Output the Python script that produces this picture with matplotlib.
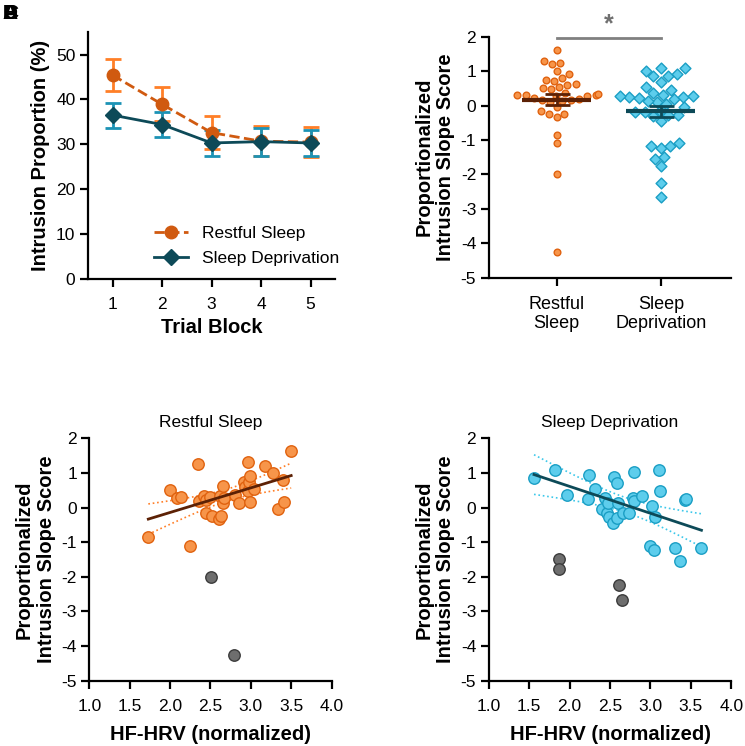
import numpy as np
import pandas as pd
import matplotlib
matplotlib.use("Agg")
import matplotlib.pyplot as plt
import seaborn as sns

plt.rcParams['font.family'] = ['Liberation Sans', 'DejaVu Sans']
plt.rcParams['axes.unicode_minus'] = False
plt.rcParams['axes.linewidth'] = 1.6
plt.rcParams['xtick.major.width'] = 1.6
plt.rcParams['ytick.major.width'] = 1.6
plt.rcParams['xtick.major.size'] = 6
plt.rcParams['ytick.major.size'] = 6
plt.rcParams['xtick.labelsize'] = 12.5
plt.rcParams['ytick.labelsize'] = 12.5

# ---- dados do painel A (média e erro por bloco)
blocks = [1, 2, 3, 4, 5]
rs_mean = [45.4, 38.9, 32.6, 30.7, 30.5]
rs_err = [3.6, 3.8, 3.7, 3.3, 3.4]
sd_mean = [36.5, 34.4, 30.3, 30.6, 30.3]
sd_err = [2.8, 2.8, 3.0, 3.1, 2.9]

# ---- painel C: restful sleep (HF-HRV x slope score)
rs_hrv = [1.73, 2.00, 2.08, 2.14, 2.25, 2.35, 2.36, 2.42, 2.44, 2.44, 2.50, 2.52,
          2.60, 2.62, 2.63, 2.65, 2.65, 2.67, 2.80, 2.85, 2.91, 2.93, 2.96, 2.98,
          2.97, 2.99, 2.99, 3.04, 3.18, 3.28, 3.34, 3.40, 3.41, 3.50]
rs_slope = [-0.84, 0.51, 0.27, 0.30, -1.10, 1.25, 0.19, 0.32, 0.22, -0.15, 0.30, -0.23,
            -0.33, 0.33, -0.23, 0.63, 0.14, 0.29, 0.36, 0.12, 0.73, 0.60, 0.48, 0.75,
            1.31, 0.92, 0.16, 0.54, 1.21, 1.01, -0.03, 0.80, 0.17, 1.63]
rs_out_hrv = [2.51, 2.79]
rs_out_slope = [-2.00, -4.26]

# ---- painel D: sleep deprivation
sd_hrv = [1.56, 1.82, 1.97, 2.23, 2.24, 2.31, 2.40, 2.44, 2.46, 2.47, 2.49, 2.54,
          2.55, 2.58, 2.59, 2.60, 2.66, 2.73, 2.78, 2.80, 2.80, 2.90, 3.02, 2.99,
          3.04, 3.06, 3.10, 3.12, 3.30, 3.37, 3.43, 3.44, 3.63]
sd_slope = [0.86, 1.09, 0.36, 0.25, 0.93, 0.54, -0.05, 0.29, -0.17, 0.12, -0.26, -0.44,
            0.87, 0.70, -0.31, 0.14, -0.15, -0.17, 0.27, 1.02, 0.20, 0.32, 0.05, -1.10,
            -1.24, -0.28, 1.09, 0.47, -1.18, -1.55, 0.22, 0.25, -1.18]
sd_out_hrv = [1.87, 1.87, 2.61, 2.65]
sd_out_slope = [-1.48, -1.76, -2.24, -2.67]

groups = ['Restful\nSleep', 'Sleep\nDeprivation']

# cores
OR_LINE = '#D05A10'
OR_ERR = '#FF7F27'
OR_FILL = '#F7954A'
OR_EDGE = '#E0620F'
OR_DARK = '#5C2105'
TE_LINE = '#0D4A58'
TE_ERR = '#1C93B5'
CY_FILL = '#5DCDEC'
CY_EDGE = '#1A9EC4'
GR_FILL = '#6E6E6E'
GR_EDGE = '#3C3C3C'

LABEL_FS = 14.5


def fit_with_ci(x, y, t_crit=2.035):
    x = np.asarray(x)
    y = np.asarray(y)
    n = len(x)
    b, a = np.polyfit(x, y, 1)
    resid = y - (a + b * x)
    s = np.sqrt(np.sum(resid ** 2) / (n - 2))
    xs = np.linspace(x.min(), x.max(), 100)
    ys = a + b * xs
    se = s * np.sqrt(1.0 / n + (xs - x.mean()) ** 2 / np.sum((x - x.mean()) ** 2))
    return xs, ys, ys - t_crit * se, ys + t_crit * se


def style_axis(ax):
    ax.spines['top'].set_visible(False)
    ax.spines['right'].set_visible(False)
    ax.tick_params(direction='out', colors='black')
    ax.tick_params(axis='y', pad=3)
    ax.tick_params(axis='x', pad=7)


fig = plt.figure(figsize=(7.45, 7.46), dpi=100)

# ---------- A
axA = fig.add_axes([0.118, 0.626, 0.332, 0.331])
axA.errorbar(blocks, rs_mean, yerr=rs_err, fmt='none', ecolor=OR_ERR,
             elinewidth=2, capsize=6, capthick=2, zorder=2)
axA.errorbar(blocks, sd_mean, yerr=sd_err, fmt='none', ecolor=TE_ERR,
             elinewidth=2, capsize=6, capthick=2, zorder=2)
axA.plot(blocks, rs_mean, '--o', color=OR_LINE, lw=2, ms=9, label='Restful Sleep', zorder=3)
axA.plot(blocks, sd_mean, '-D', color=TE_LINE, lw=2, ms=8, label='Sleep Deprivation', zorder=4)
axA.set_xlim(0.5, 5.5)
axA.set_ylim(0, 55)
axA.set_xticks(blocks)
axA.set_yticks([0, 10, 20, 30, 40, 50])
axA.set_xlabel('Trial Block', fontsize=LABEL_FS, fontweight='bold', labelpad=4)
axA.set_ylabel('Intrusion Proportion (%)', fontsize=LABEL_FS, fontweight='bold')
axA.legend(loc='lower right', frameon=False, fontsize=12.5, handlelength=2.0,
           bbox_to_anchor=(1.08, -0.01), labelspacing=0.55, handletextpad=0.8)
style_axis(axA)

# ---------- B
axB = fig.add_axes([0.656, 0.628, 0.325, 0.3225])
rs_all = rs_slope + rs_out_slope
sd_all = sd_slope + sd_out_slope
dfB_rs = pd.DataFrame({'grupo': groups[0], 'score': rs_all})
dfB_sd = pd.DataFrame({'grupo': groups[1], 'score': sd_all})
sns.swarmplot(data=dfB_rs, x='grupo', y='score', order=groups, ax=axB, marker='o',
              size=4.8, color=OR_FILL, edgecolor=OR_EDGE, linewidth=1, zorder=2)
sns.swarmplot(data=dfB_sd, x='grupo', y='score', order=groups, ax=axB, marker='D',
              size=5.5, color=CY_FILL, edgecolor=CY_EDGE, linewidth=1, zorder=2)
for i, (vals, col) in enumerate([(rs_all, OR_DARK), (sd_all, TE_LINE)]):
    m = np.mean(vals)
    sem = np.std(vals, ddof=1) / np.sqrt(len(vals))
    axB.plot([i - 0.33, i + 0.33], [m, m], color=col, lw=3, zorder=4, solid_capstyle='butt')
    axB.errorbar([i], [m], yerr=[sem], fmt='none', ecolor=col, elinewidth=2,
                 capsize=9, capthick=2, zorder=4)
axB.plot([0, 1], [1.98, 1.98], color='#808080', lw=2, clip_on=False)
axB.text(0.5, 2.02, '*', ha='center', va='bottom', fontsize=18, color='#707070', fontweight='bold')
axB.set_xlim(-0.65, 1.67)
axB.set_ylim(-5, 2)
axB.set_yticks(range(-5, 3))
axB.set_xlabel('')
axB.set_ylabel('Proportionalized\nIntrusion Slope Score', fontsize=LABEL_FS, fontweight='bold')
axB.tick_params(axis='x', labelsize=13)
style_axis(axB)

# ---------- C e D
panels = [
    ([0.12, 0.0875, 0.325, 0.325], 'Restful Sleep', rs_hrv, rs_slope, rs_out_hrv, rs_out_slope,
     OR_FILL, OR_EDGE, OR_DARK, OR_ERR),
    ([0.656, 0.0875, 0.3257, 0.325], 'Sleep Deprivation', sd_hrv, sd_slope, sd_out_hrv, sd_out_slope,
     CY_FILL, CY_EDGE, TE_LINE, '#3CC8EA'),
]
for rect, title, hx, hy, ox, oy, fill, edge, lcol, bcol in panels:
    ax = fig.add_axes(rect)
    ax.scatter(hx, hy, s=68, color=fill, edgecolor=edge, linewidth=1, zorder=3)
    ax.scatter(ox, oy, s=68, color=GR_FILL, edgecolor=GR_EDGE, linewidth=1, zorder=3)
    xs, ys, lo, hi = fit_with_ci(hx, hy)
    ax.plot(xs, ys, color=lcol, lw=2, zorder=4)
    ax.plot(xs, lo, ':', color=bcol, lw=1.2, zorder=2)
    ax.plot(xs, hi, ':', color=bcol, lw=1.2, zorder=2)
    ax.set_xlim(1.0, 4.0)
    ax.set_ylim(-5, 2)
    ax.set_xticks(np.arange(1.0, 4.01, 0.5))
    ax.set_xticklabels(['%.1f' % v for v in np.arange(1.0, 4.01, 0.5)])
    ax.set_yticks(range(-5, 3))
    ax.set_title(title, fontsize=12.5, pad=8)
    ax.set_xlabel('HF-HRV (normalized)', fontsize=LABEL_FS, fontweight='bold', labelpad=8)
    ax.set_ylabel('Proportionalized\nIntrusion Slope Score', fontsize=LABEL_FS, fontweight='bold')
    style_axis(ax)

# rótulos dos painéis (sobrepostos como na figura original)
for lab in ['A', 'B', 'C', 'D']:
    fig.text(0.004, 0.995, lab, fontsize=15, fontweight='bold', ha='left', va='top')

fig.savefig('out.png', dpi=100)
